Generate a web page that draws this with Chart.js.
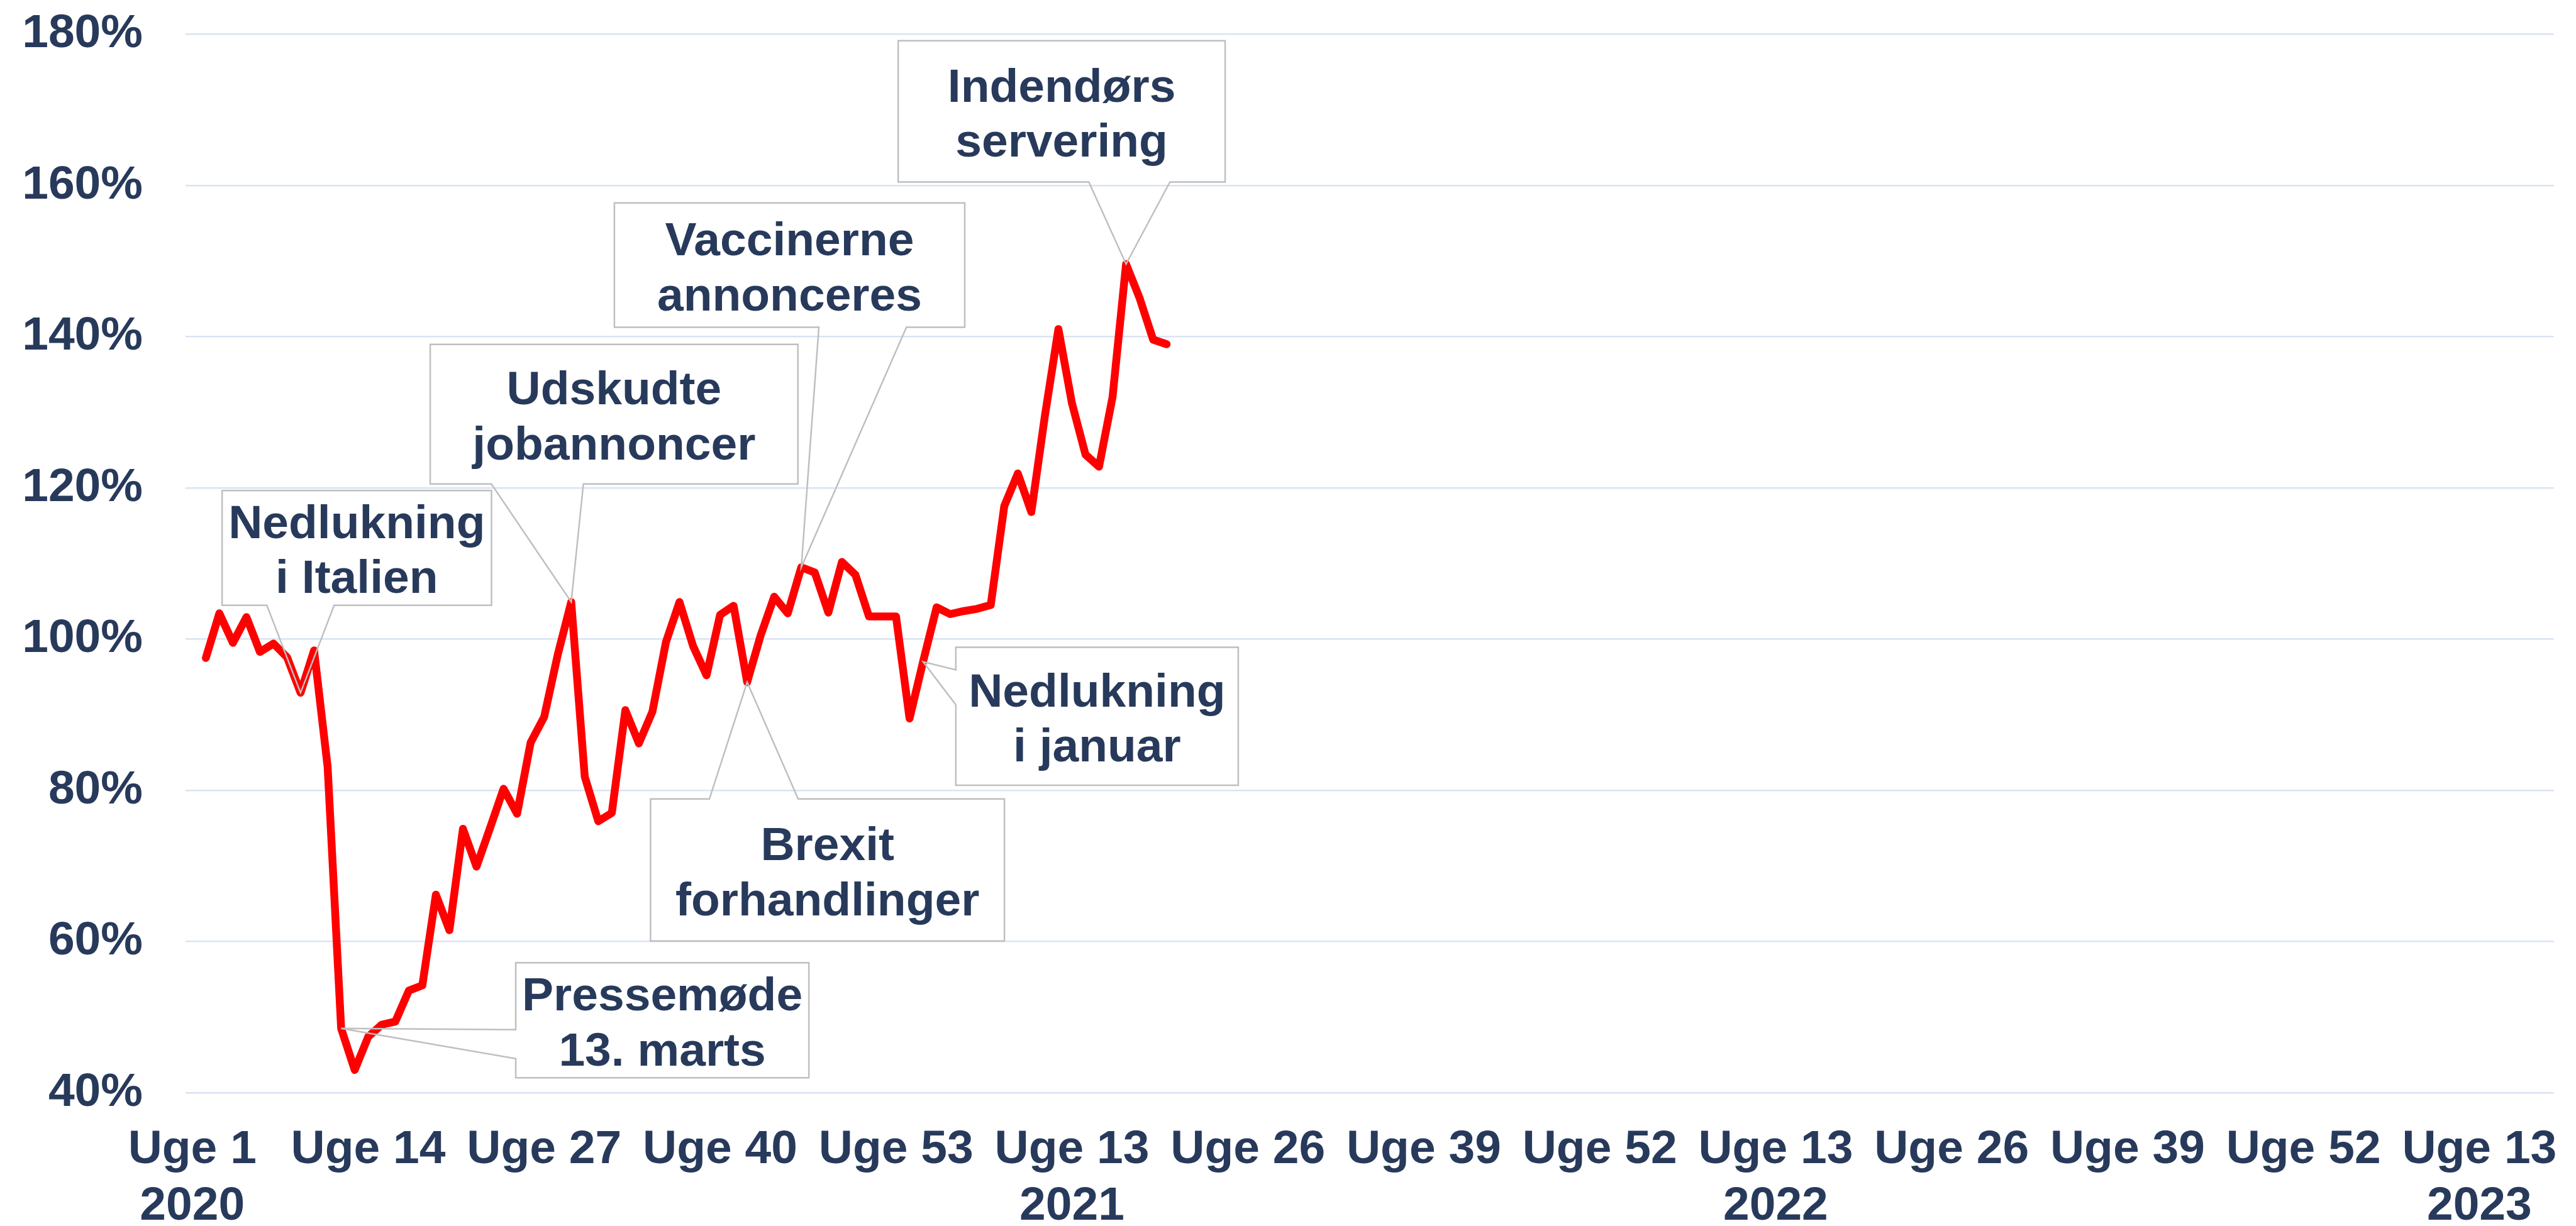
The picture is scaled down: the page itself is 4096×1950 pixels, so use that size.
<!DOCTYPE html>
<html>
<head>
<meta charset="utf-8">
<script src="https://cdn.jsdelivr.net/npm/chart.js@4.4.1/dist/chart.umd.min.js"></script>
<style>
  html, body { margin: 0; padding: 0; background: #ffffff; }
  #chart { display: block; }
</style>
</head>
<body>
<canvas id="chart" width="4096" height="1950"></canvas>
<script>
// weeks on the category axis: 2020 has 53 weeks, then 52, 52, and 18 weeks of 2023
const years = [2020, 2021, 2022, 2023];
const weeksInYear = [53, 52, 52, 18];

// job ads index, % of normal level, from 2020 week 2 to 2021 week 20
const jobIndex = [
  97.5, 103.4, 99.5, 102.9, 98.3, 99.4, 97.6, 92.9, 98.5, 83.1,
  48.5, 43.0, 47.4, 49.0, 49.4, 53.5, 54.2, 66.2, 61.5, 74.9,
  69.9, 75.0, 80.2, 76.9, 86.3, 89.7, 97.9, 104.9, 81.8, 75.9,
  77.0, 90.6, 86.2, 90.4, 99.6, 104.9, 99.1, 95.2, 103.2, 104.4,
  94.3, 100.5, 105.6, 103.4, 109.5, 108.8, 103.5, 110.2, 108.5, 103.0,
  103.0, 103.0, 89.5, 97.0, 104.2, 103.3, 103.7, 104.0, 104.5, 117.6,
  121.9, 116.8, 129.5, 141.0, 131.2, 124.4, 122.8, 132.0, 149.6, 145.1,
  139.6, 139.0
];

// labels shown every 13th week
const tickText = ["Uge 1", "Uge 14", "Uge 27", "Uge 40", "Uge 53", "Uge 13", "Uge 26",
  "Uge 39", "Uge 52", "Uge 13", "Uge 26", "Uge 39", "Uge 52", "Uge 13"];
const tickYear = ["2020", "", "", "", "", "2021", "", "", "", "2022", "", "", "", "2023"];

const yTicks = [40, 60, 80, 100, 120, 140, 160, 180];

// callouts: box in (week index, %) units, wedge base on one side, tip at a data index
const callouts = [
  { lines: ["Nedlukning", "i Italien"], box: [2.2, 22.11, 119.65, 104.47], side: "bottom", base: [5.51, 10.48], tip: 8 },
  { lines: ["Pressemøde", "13. marts"], box: [23.9, 45.56, 57.19, 41.98], side: "left", base: [48.33, 44.5], tip: 11 },
  { lines: ["Udskudte", "jobannoncer"], box: [17.58, 44.75, 138.98, 120.52], side: "bottom", base: [22.1, 28.9], tip: 28 },
  { lines: ["Vaccinerne", "annonceres"], box: [31.19, 57.08, 157.69, 141.25], side: "bottom", base: [46.3, 52.77], tip: 45 },
  { lines: ["Brexit", "forhandlinger"], box: [33.86, 60.01, 78.85, 60.07], side: "top", base: [38.21, 44.77], tip: 41 },
  { lines: ["Nedlukning", "i januar"], box: [56.42, 77.29, 98.92, 80.67], side: "left", base: [95.93, 91.31], tip: 54 },
  { lines: ["Indendørs", "servering"], box: [52.16, 76.32, 179.13, 160.46], side: "bottom", base: [66.25, 72.24], tip: 69 }
];

const navy = "#283A5B";
const fontFamily = "'Liberation Sans', Arial, sans-serif";

const labels = [];
years.forEach((y, k) => {
  for (let w = 1; w <= weeksInYear[k]; w++) labels.push("Uge " + w + " " + y);
});

const seriesData = [null].concat(jobIndex);

const calloutPlugin = {
  id: "callouts",
  afterDatasetsDraw(chart) {
    const ctx = chart.ctx;
    const xs = chart.scales.x;
    const ys = chart.scales.y;
    const values = chart.data.datasets[0].data;

    callouts.forEach((c) => {
      const l = xs.getPixelForValue(c.box[0]);
      const r = xs.getPixelForValue(c.box[1]);
      const t = ys.getPixelForValue(c.box[2]);
      const b = ys.getPixelForValue(c.box[3]);
      const tx = xs.getPixelForValue(c.tip);
      const ty = ys.getPixelForValue(values[c.tip]);

      ctx.save();
      ctx.fillStyle = "#ffffff";
      ctx.fillRect(l, t, r - l, b - t);

      ctx.beginPath();
      if (c.side === "bottom") {
        const b1 = xs.getPixelForValue(c.base[0]);
        const b2 = xs.getPixelForValue(c.base[1]);
        ctx.moveTo(l, t);
        ctx.lineTo(r, t);
        ctx.lineTo(r, b);
        ctx.lineTo(b2, b);
        ctx.lineTo(tx, ty);
        ctx.lineTo(b1, b);
        ctx.lineTo(l, b);
      } else if (c.side === "top") {
        const b1 = xs.getPixelForValue(c.base[0]);
        const b2 = xs.getPixelForValue(c.base[1]);
        ctx.moveTo(l, t);
        ctx.lineTo(b1, t);
        ctx.lineTo(tx, ty);
        ctx.lineTo(b2, t);
        ctx.lineTo(r, t);
        ctx.lineTo(r, b);
        ctx.lineTo(l, b);
      } else {
        const b1 = ys.getPixelForValue(c.base[0]);
        const b2 = ys.getPixelForValue(c.base[1]);
        ctx.moveTo(l, t);
        ctx.lineTo(r, t);
        ctx.lineTo(r, b);
        ctx.lineTo(l, b);
        ctx.lineTo(l, b2);
        ctx.lineTo(tx, ty);
        ctx.lineTo(l, b1);
      }
      ctx.closePath();
      ctx.strokeStyle = "#BFBFBF";
      ctx.lineWidth = 2.5;
      ctx.lineJoin = "miter";
      ctx.stroke();

      ctx.fillStyle = navy;
      ctx.font = "bold 75px " + fontFamily;
      ctx.textAlign = "center";
      ctx.textBaseline = "alphabetic";
      const cx = (l + r) / 2;
      const cy = (t + b) / 2;
      c.lines.forEach((line, i) => {
        ctx.fillText(line, cx, cy - 15.5 + i * 87.5);
      });
      ctx.restore();
    });
  }
};

new Chart(document.getElementById("chart"), {
  type: "line",
  data: {
    labels: labels,
    datasets: [
      {
        label: "Jobannoncer",
        data: seriesData,
        borderColor: "#FF0000",
        borderWidth: 12.5,
        borderJoinStyle: "round",
        borderCapStyle: "round",
        pointRadius: 0,
        tension: 0,
        fill: false,
        spanGaps: false
      }
    ]
  },
  options: {
    responsive: false,
    animation: false,
    devicePixelRatio: 1,
    layout: { padding: { left: 0, right: 18.6, top: 54.4, bottom: 0 } },
    plugins: {
      legend: { display: false },
      tooltip: { enabled: false }
    },
    scales: {
      x: {
        type: "category",
        offset: true,
        grid: { display: false, drawTicks: false },
        border: { display: false },
        afterFit: (scale) => { scale.height = 212; },
        ticks: {
          autoSkip: false,
          maxRotation: 0,
          minRotation: 0,
          padding: 46,
          color: navy,
          font: { family: fontFamily, size: 75, weight: "bold", lineHeight: 1.2 },
          callback: function (value, index) {
            if (index % 13 !== 0) return "";
            const k = index / 13;
            return tickYear[k] ? [tickText[k], tickYear[k]] : tickText[k];
          }
        }
      },
      y: {
        min: yTicks[0],
        max: yTicks[yTicks.length - 1],
        afterFit: (scale) => {
          scale.width = 295;
          // the tick padding is horizontal here, keep it out of the top/bottom layout padding
          scale.paddingTop = 0;
          scale.paddingBottom = 0;
        },
        afterBuildTicks: (scale) => { scale.ticks = yTicks.map((v) => ({ value: v })); },
        grid: { color: "#DAE3F3", lineWidth: 2.5, drawTicks: false },
        border: { display: false },
        ticks: {
          padding: 68,
          color: navy,
          font: { family: fontFamily, size: 75, weight: "bold", lineHeight: 1.175 },
          callback: (v) => v + "%"
        }
      }
    }
  },
  plugins: [calloutPlugin]
});
</script>
</body>
</html>
